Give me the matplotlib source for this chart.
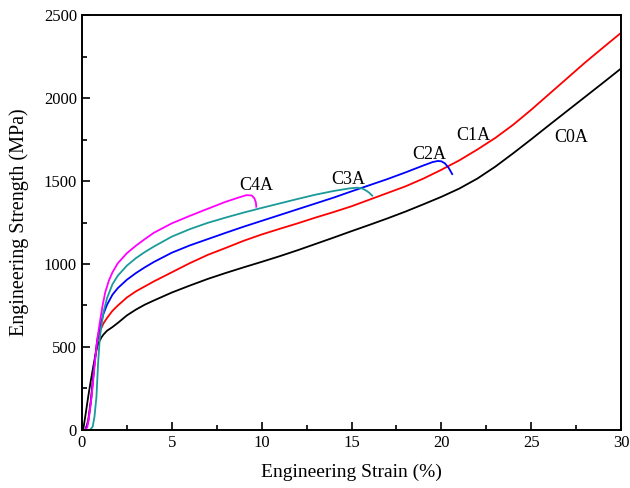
import matplotlib
matplotlib.use("Agg")
import matplotlib.pyplot as plt
from matplotlib.ticker import MultipleLocator

plt.rcParams["font.family"] = ["Liberation Serif", "DejaVu Serif"]

# strain (%) / stress (MPa)
c0a_x = [0.07, 0.2, 0.35, 0.5, 0.63, 0.75, 0.85, 0.95, 1.1, 1.2, 1.4, 1.7, 2.0, 2.5, 3.0,
         3.5, 4, 5, 6, 7, 8, 9, 10, 11, 12, 13, 14, 15, 16, 17, 18, 19, 20, 21, 22, 23,
         24, 25, 26, 27, 28, 29, 30]
c0a_y = [0, 90, 200, 300, 381, 450, 500, 530, 560, 575, 598, 620, 645, 690, 725,
         755, 780, 828, 870, 910, 946, 980, 1013, 1047, 1083, 1121, 1159, 1198, 1236,
         1275, 1316, 1360, 1405, 1455, 1515, 1587, 1668, 1752, 1838, 1923, 2008, 2093, 2179]

c1a_x = [0.2, 0.35, 0.5, 0.7, 0.85, 1.0, 1.2, 1.4, 1.7, 2.0, 2.5, 3.0, 3.5, 4, 5, 6,
         7, 8, 9, 10, 11, 12, 13, 14, 15, 16, 17, 18, 19, 20, 21, 22, 23, 24, 25, 26,
         27, 28, 29, 30]
c1a_y = [0, 60, 180, 400, 530, 595, 642, 675, 718, 750, 798, 835, 865, 895, 950, 1005,
         1055, 1097, 1140, 1178, 1212, 1245, 1280, 1313, 1348, 1388, 1428, 1468, 1515,
         1568, 1625, 1690, 1760, 1840, 1930, 2025, 2120, 2215, 2305, 2394]

c2a_x = [0.2, 0.35, 0.5, 0.7, 0.85, 1.0, 1.2, 1.4, 1.7, 2.0, 2.5, 3.0, 3.5, 4, 5, 6,
         7, 8, 9, 10, 11, 12, 13, 14, 15, 16, 17, 18, 19, 19.5, 19.8, 20.0, 20.2,
         20.4, 20.6]
c2a_y = [0, 50, 170, 400, 540, 620, 700, 755, 815, 855, 905, 945, 980, 1012, 1068,
         1112, 1150, 1188, 1225, 1260, 1295, 1330, 1365, 1400, 1438, 1475, 1512, 1552,
         1594, 1614, 1621, 1619, 1606, 1580, 1542]

c3a_x = [0.45, 0.6, 0.7, 0.81, 0.9, 1.0, 1.2, 1.4, 1.7, 2.0, 2.5, 3.0, 3.5, 4, 5, 6,
         7, 8, 9, 10, 11, 12, 13, 14, 14.9, 15.3, 15.6, 15.85, 16.0, 16.15]
c3a_y = [0, 20, 80, 200, 400, 560, 710, 795, 878, 930, 990, 1035, 1072, 1105, 1165,
         1210, 1248, 1280, 1310, 1338, 1365, 1392, 1418, 1440, 1456, 1460, 1455, 1440,
         1428, 1412]

c4a_x = [0.15, 0.3, 0.4, 0.54, 0.72, 0.85, 1.0, 1.15, 1.3, 1.5, 1.7, 2.0, 2.5, 3.0,
         3.5, 4, 5, 6, 7, 8, 8.7, 9.15, 9.45, 9.6, 9.68, 9.7]
c4a_y = [0, 15, 80, 200, 402, 542, 650, 750, 830, 900, 950, 1005, 1065, 1110,
         1150, 1188, 1245, 1290, 1333, 1375, 1400, 1415, 1413, 1395, 1370, 1345]

series = [
    ("C0A", c0a_x, c0a_y, "black", (27.2, 1765)),
    ("C1A", c1a_x, c1a_y, "#ff0000", (21.8, 1777)),
    ("C2A", c2a_x, c2a_y, "#0000ff", (19.3, 1657)),
    ("C3A", c3a_x, c3a_y, "#1a9a9a", (14.8, 1512)),
    ("C4A", c4a_x, c4a_y, "#ff00ff", (9.7, 1476)),
]

fig = plt.figure(figsize=(6.3, 4.88), dpi=100)
ax = fig.add_axes([0.130, 0.119, 0.856, 0.850])

for name, xs, ys, col, (lx, ly) in series:
    ax.plot(xs, ys, color=col, linewidth=1.3)
    ax.text(lx, ly, name, fontsize=13, ha="center", va="center")

ax.set_xlim(0, 30)
ax.set_ylim(0, 2500)
ax.xaxis.set_major_locator(MultipleLocator(5))
ax.xaxis.set_minor_locator(MultipleLocator(2.5))
ax.yaxis.set_major_locator(MultipleLocator(500))
ax.yaxis.set_minor_locator(MultipleLocator(250))
ax.tick_params(which="both", direction="in", labelsize=12, width=1.2)
ax.tick_params(which="major", length=6)
ax.tick_params(which="minor", length=3.5)
for sp in ax.spines.values():
    sp.set_linewidth(1.4)

ax.set_xlabel("Engineering Strain (%)", fontsize=14, labelpad=9)
ax.set_ylabel("Engineering Strength (MPa)", fontsize=14.5, labelpad=11)

plt.savefig("out.png", dpi=100)
plt.close()
